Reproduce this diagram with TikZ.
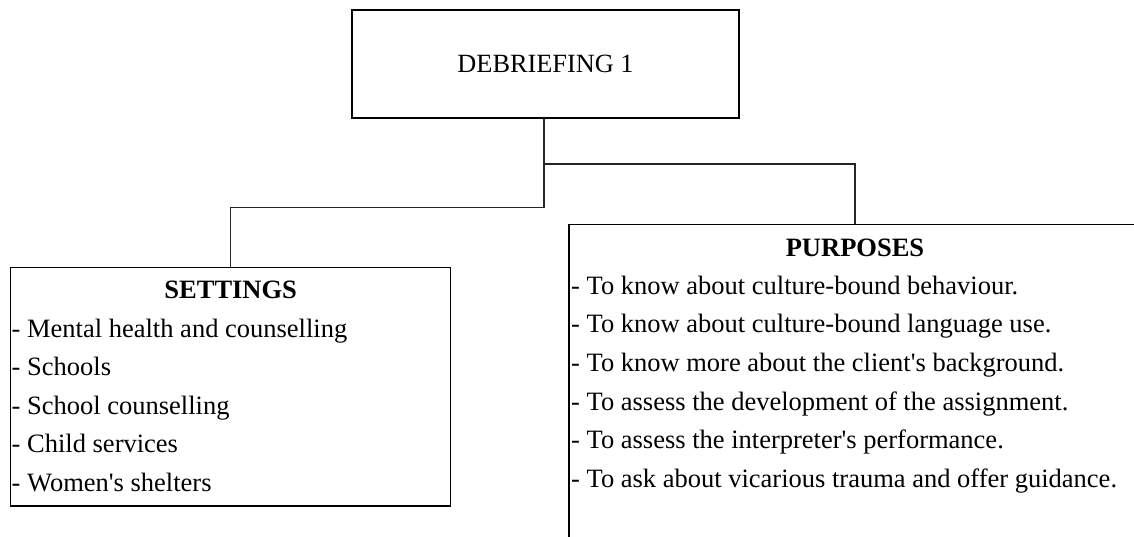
\documentclass[tikz,border=0pt]{standalone}
\usepackage{fontspec}
\setmainfont{Liberation Serif}[Ligatures=TeXOff]
\begin{document}
\begin{tikzpicture}[x=1pt,y=-1pt,
  box/.style={draw=black,line width=1.1pt,rectangle,inner sep=0pt},
  link/.style={draw=black!85,line width=1.1pt},
  head/.style={font=\fontsize{26.5}{30}\selectfont\bfseries,inner sep=0pt,anchor=base},
  item/.style={font=\fontsize{26.5}{30}\selectfont,inner sep=0pt,anchor=base west}]
\useasboundingbox (0,0) rectangle (1134,537);
\clip (0,0) rectangle (1134,537);

% top box
\node[box,minimum width=387pt,minimum height=108pt,
      font=\fontsize{26.3}{30}\selectfont] (root) at (545.5,64) {DEBRIEFING 1};

% the two branch boxes
\node[box,minimum width=440pt,minimum height=238.3pt] (settings) at (230.7,386.85) {};
\node[box,minimum width=572pt,minimum height=340pt,anchor=north] (purposes) at (855,224.3) {};

% connectors
\coordinate (upper) at (544,164);
\coordinate (lower) at (544,207.3);
\draw[link] (root.south -| upper) -- (lower) -| (settings.north);
\draw[link] (upper) -| (purposes.north);

% settings text
\node[head] (sethead) at (230.7,298) {SETTINGS};
\foreach \t [count=\i] in {Mental health and counselling,Schools,School counselling,Child services,Women's shelters}
  \node[item] (set\i) at (11.5,298.5+38.6*\i) {- \t};

% purposes text
\node[head] (purhead) at (855,256.8) {PURPOSES};
\foreach \t [count=\i] in {To know about culture-bound behaviour.,
  To know about culture-bound language use.,
  To know more about the client's background.,
  To assess the development of the assignment.,
  To assess the interpreter's performance.,
  To ask about vicarious trauma and offer guidance.}
  \node[item] (pur\i) at (571,255.6+38.6*\i) {- \t};
\end{tikzpicture}
\end{document}
